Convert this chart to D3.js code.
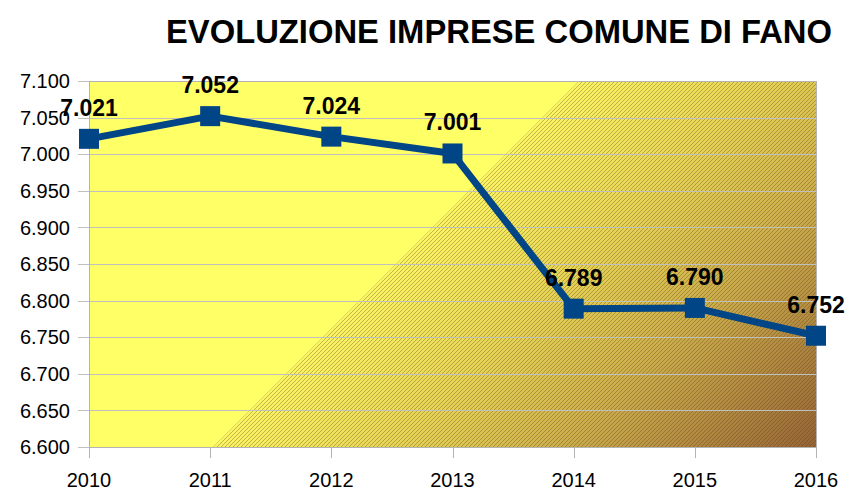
<!DOCTYPE html>
<html>
<head>
<meta charset="utf-8">
<script src="https://d3js.org/d3.v7.min.js"></script>
<style>
body { margin: 0; background: #fff; }
text { font-family: "Liberation Sans", Arial, sans-serif; }
</style>
</head>
<body>
<svg id="chart" width="850" height="492"></svg>
<script>
const years = ["2010", "2011", "2012", "2013", "2014", "2015", "2016"];
const imprese = [7021, 7052, 7024, 7001, 6789, 6790, 6752];
const yTicks = [6600, 6650, 6700, 6750, 6800, 6850, 6900, 6950, 7000, 7050, 7100];
const title = "EVOLUZIONE IMPRESE COMUNE DI FANO";

const plotLeft = 89, plotRight = 816, plotTop = 81, plotBottom = 447;
const fmt = d3.formatLocale({decimal: ",", thousands: ".", grouping: [3]}).format(",d");

var svg = d3.select("#chart");

var x = d3.scalePoint().domain(years).range([plotLeft, plotRight]);
var y = d3.scaleLinear().domain([6600, 7100]).range([plotBottom, plotTop]);

var defs = svg.append("defs");
// diagonal gradient, starting on the line x+y=660
var grad = defs.append("linearGradient").attr("id", "bg")
  .attr("gradientUnits", "userSpaceOnUse")
  .attr("x1", 330).attr("y1", 330).attr("x2", 631.5).attr("y2", 631.5);
grad.append("stop").attr("offset", 0).attr("stop-color", "#fbf463");
grad.append("stop").attr("offset", 0.3).attr("stop-color", "#e6d455");
grad.append("stop").attr("offset", 0.6).attr("stop-color", "#c9aa4a");
grad.append("stop").attr("offset", 1).attr("stop-color", "#966436");

var hatch = defs.append("pattern").attr("id", "hatch")
  .attr("patternUnits", "userSpaceOnUse").attr("width", 4).attr("height", 4);
hatch.append("path").attr("d", "M-1,1 l2,-2 M0,4 l4,-4 M3,5 l2,-2")
  .attr("stroke", "rgba(90,60,20,0.35)").attr("stroke-width", 1);

defs.append("clipPath").attr("id", "plotclip").append("rect")
  .attr("x", plotLeft).attr("y", plotTop).attr("width", plotRight - plotLeft).attr("height", plotBottom - plotTop);

// background
var bg = svg.append("g").attr("clip-path", "url(#plotclip)");
bg.append("rect").attr("x", plotLeft).attr("y", plotTop).attr("width", plotRight - plotLeft).attr("height", plotBottom - plotTop)
  .attr("fill", "#ffff66");
var tri = [[660 - plotTop, plotTop], [plotRight + 10, plotTop], [plotRight + 10, plotBottom + 10], [660 - plotBottom - 10, plotBottom + 10]];
bg.append("polygon").attr("points", tri.map(p => p.join(",")).join(" ")).attr("fill", "url(#bg)");
bg.append("polygon").attr("points", tri.map(p => p.join(",")).join(" ")).attr("fill", "url(#hatch)");

// grid
svg.append("g").selectAll("line").data(yTicks).enter().append("line")
  .attr("x1", plotLeft - 11).attr("x2", plotRight)
  .attr("y1", d => Math.round(y(d)) + 0.5).attr("y2", d => Math.round(y(d)) + 0.5)
  .attr("stroke", "#c0c0c0").attr("stroke-width", 1);
svg.append("rect").attr("x", plotLeft + 0.5).attr("y", plotTop + 0.5)
  .attr("width", plotRight - plotLeft).attr("height", plotBottom - plotTop)
  .attr("fill", "none").attr("stroke", "#b3b3b3");

// x ticks
svg.append("g").selectAll("line").data(years).enter().append("line")
  .attr("x1", d => Math.round(x(d)) + 0.5).attr("x2", d => Math.round(x(d)) + 0.5)
  .attr("y1", plotBottom).attr("y2", plotBottom + 11)
  .attr("stroke", "#b3b3b3");

// axis labels
svg.append("g").selectAll("text").data(yTicks).enter().append("text")
  .attr("x", 70).attr("y", d => y(d)).attr("dy", "0.36em")
  .attr("text-anchor", "end").style("font-size", "20px").attr("fill", "#000")
  .text(d => fmt(d));
svg.append("g").selectAll("text").data(years).enter().append("text")
  .attr("x", d => x(d)).attr("y", 487)
  .attr("text-anchor", "middle").style("font-size", "20px").attr("fill", "#000")
  .text(d => d);

// line
var line = d3.line().x((d, i) => x(years[i])).y(d => y(d));
svg.append("path").datum(imprese).attr("d", line)
  .attr("fill", "none").attr("stroke", "#004586").attr("stroke-width", 7)
  .attr("stroke-linejoin", "round");
svg.append("g").selectAll("rect").data(imprese).enter().append("rect")
  .attr("x", (d, i) => x(years[i]) - 10).attr("y", d => y(d) - 10)
  .attr("width", 20).attr("height", 20).attr("fill", "#004586");

// data labels
svg.append("g").selectAll("text").data(imprese).enter().append("text")
  .attr("x", (d, i) => x(years[i])).attr("y", d => y(d) - 23)
  .attr("text-anchor", "middle").style("font-size", "23px").style("font-weight", "bold")
  .attr("fill", "#000").text(d => fmt(d));

// title
svg.append("text").attr("x", 166).attr("y", 43)
  .attr("textLength", 666).attr("lengthAdjust", "spacingAndGlyphs")
  .style("font-size", "34px").style("font-weight", "bold").attr("fill", "#000")
  .text(title);
</script>
</body>
</html>
